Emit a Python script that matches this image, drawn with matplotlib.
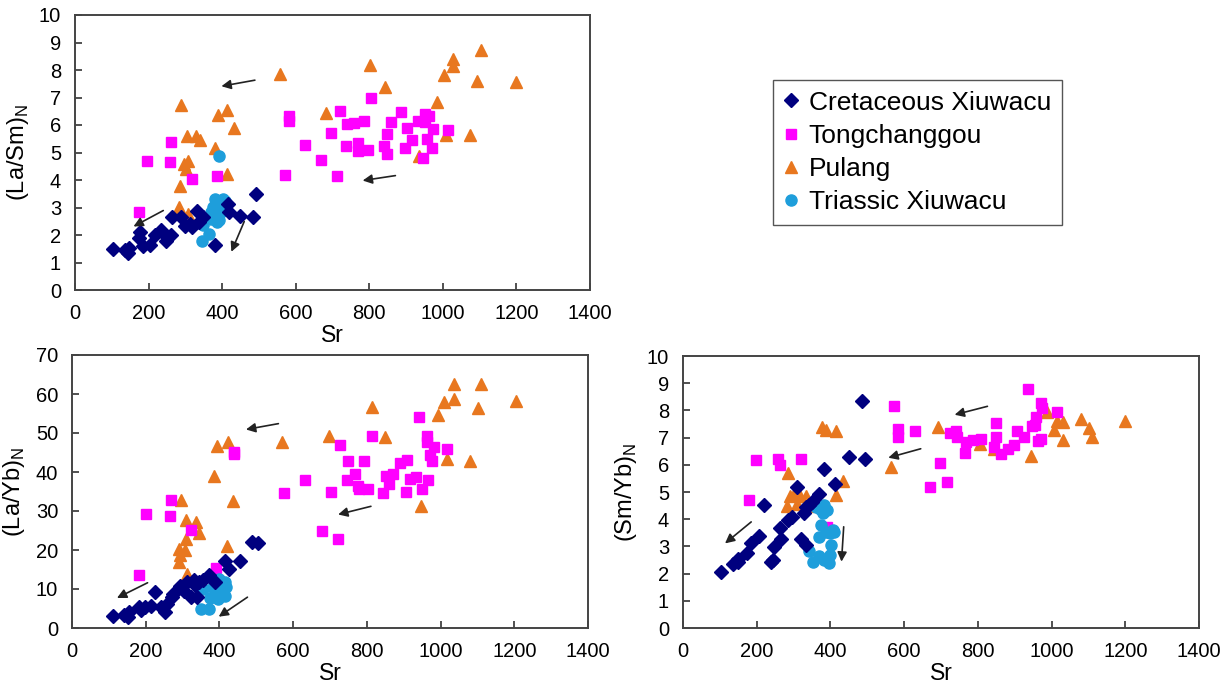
import numpy as np
import matplotlib
matplotlib.use('Agg')
import matplotlib.pyplot as plt

plt.rcParams['font.family'] = ['Liberation Sans', 'DejaVu Sans']
plt.rcParams['mathtext.fontset'] = 'custom'
plt.rcParams['mathtext.rm'] = 'Liberation Sans'

# (La/Sm)N vs Sr
cre_sr1 = [104, 137, 145, 148, 175, 177, 186, 204, 218, 233, 242, 247, 261, 265, 287, 298, 312, 319,
           331, 337, 349, 380, 417, 419, 448, 484, 492]
cre_lasm = [1.5, 1.45, 1.36, 1.53, 1.89, 2.1, 1.6, 1.63, 2.0, 2.19, 2.05, 1.77, 1.99, 2.65, 2.65, 2.33, 2.41, 2.29,
            2.89, 2.49, 2.65, 1.65, 3.14, 2.83, 2.69, 2.65, 3.5]
ton_sr1 = [175, 197, 261, 258, 317, 385, 570, 583, 583, 626, 670, 697, 713, 720, 737, 740, 758, 769, 769, 785,
           796, 804, 839, 847, 849, 860, 885, 903, 898, 917, 932, 946, 952, 957, 962, 970, 973, 1013, 952]
ton_lasm = [2.83, 4.7, 5.4, 4.64, 4.04, 4.13, 4.18, 6.33, 6.14, 5.27, 4.72, 5.7, 4.16, 6.5, 5.24, 6.02, 6.06, 5.34,
            5.06, 6.14, 5.1, 6.99, 5.24, 4.94, 5.66, 6.1, 6.47, 5.9, 5.18, 5.46, 6.14, 4.8, 6.39, 5.48, 6.33, 5.18,
            5.84, 5.82, 6.1]
pul_sr1 = [287, 304, 306, 295, 301, 285, 282, 306, 330, 339, 380, 388, 414, 414, 432, 557, 683, 801, 842, 984,
           1002, 1027, 1027, 1094, 1104, 1073, 1009, 935, 1199]
pul_lasm = [6.71, 5.6, 4.7, 4.58, 4.4, 3.8, 3.01, 2.75, 5.6, 5.45, 5.16, 6.35, 6.54, 4.22, 5.9, 7.87, 6.45, 8.17,
            7.37, 6.84, 7.83, 8.4, 8.16, 7.59, 8.73, 5.63, 5.63, 4.88, 7.55]
tri_sr1 = [392, 344, 363, 349, 370, 376, 380, 392, 398, 401, 409, 384, 370, 387, 392]
tri_lasm = [4.88, 1.8, 2.05, 2.35, 2.6, 3.01, 3.3, 3.13, 2.83, 3.3, 3.25, 2.65, 2.83, 2.47, 2.53]

# (La/Yb)N vs Sr
cre_sr2 = [111, 140, 156, 151, 181, 188, 199, 213, 226, 242, 253, 258, 271, 274, 293, 305, 312, 323, 334, 340,
           345, 355, 371, 414, 425, 455, 488, 506, 388, 332]
cre_layb = [3.2, 3.4, 4.0, 2.9, 5.3, 4.5, 5.3, 5.6, 9.2, 5.3, 4.2, 6.2, 7.9, 8.7, 10.7, 9.6, 11.7, 7.9, 10.9, 7.9,
            11.7, 12.2, 13.5, 17.3, 15.2, 17.1, 22.0, 21.9, 11.7, 12.2]
ton_sr2 = [181, 202, 267, 269, 323, 391, 439, 439, 576, 633, 678, 703, 721, 727, 745, 749, 768, 775, 778, 791,
           802, 813, 845, 853, 859, 870, 891, 910, 905, 918, 932, 942, 950, 962, 964, 966, 972, 977, 983, 1018]
ton_layb = [13.5, 29.3, 28.7, 32.7, 25.2, 15.3, 45.2, 44.5, 34.6, 38.0, 24.8, 34.9, 22.7, 47.0, 38.0, 42.8, 39.6,
            36.3, 35.7, 42.8, 35.6, 49.3, 34.6, 38.9, 36.8, 39.6, 42.4, 43.0, 34.9, 38.3, 38.7, 54.2, 35.7, 49.3,
            47.7, 37.9, 44.3, 42.8, 46.4, 45.8]
pul_sr2 = [296, 310, 337, 345, 310, 307, 291, 293, 291, 312, 386, 393, 422, 420, 438, 571, 696, 813, 849, 947,
           993, 1010, 1018, 1036, 1036, 1080, 1102, 1111, 1206]
pul_layb = [32.9, 27.8, 27.3, 24.3, 22.7, 20.1, 20.3, 18.6, 16.9, 13.9, 38.9, 46.6, 47.7, 20.9, 32.5, 47.7, 49.2,
            56.6, 49.0, 31.3, 54.6, 58.0, 43.4, 62.5, 58.7, 42.8, 56.3, 62.5, 58.2]
tri_sr2 = [350, 372, 374, 355, 382, 393, 398, 409, 414, 418, 404, 414, 396, 388]
tri_layb = [4.9, 4.9, 7.6, 10.0, 10.5, 11.3, 12.6, 10.5, 11.7, 10.5, 8.7, 8.3, 7.5, 9.2]

# (Sm/Yb)N vs Sr
cre_sr3 = [104, 137, 148, 150, 174, 185, 206, 220, 238, 243, 248, 264, 267, 285, 296, 309, 319, 327, 333, 343,
           349, 368, 383, 412, 451, 486, 494, 333]
cre_smyb = [2.07, 2.35, 2.44, 2.52, 2.77, 3.11, 3.38, 4.51, 2.44, 2.5, 2.99, 3.66, 3.29, 3.96, 4.09, 5.18, 3.27,
            4.21, 3.05, 4.51, 4.63, 4.94, 5.85, 5.3, 6.3, 8.35, 6.22, 4.45]
ton_sr3 = [178, 198, 259, 262, 319, 391, 573, 583, 583, 629, 671, 697, 716, 724, 740, 743, 764, 769, 787, 808,
           850, 850, 843, 864, 882, 898, 906, 924, 935, 946, 956, 959, 962, 970, 972, 974, 1014]
ton_smyb = [4.72, 6.16, 6.2, 6.01, 6.22, 3.72, 8.17, 7.32, 7.04, 7.26, 5.18, 6.06, 5.37, 7.16, 7.26, 7.01, 6.43,
            6.83, 6.91, 6.95, 7.52, 7.01, 6.67, 6.4, 6.59, 6.71, 7.26, 7.04, 8.8, 7.44, 7.48, 7.77, 6.87, 6.95,
            8.26, 8.07, 7.93]
pul_sr3 = [285, 283, 290, 301, 309, 317, 333, 338, 378, 389, 414, 414, 433, 565, 692, 805, 843, 943, 988, 1006,
           1014, 1032, 1032, 1081, 1101, 1111, 1199]
pul_smyb = [5.7, 4.48, 4.84, 4.94, 4.57, 4.84, 4.84, 4.48, 7.4, 7.28, 7.23, 4.88, 5.4, 5.91, 7.4, 6.77, 6.59,
            6.34, 7.93, 7.28, 7.62, 7.56, 6.91, 7.68, 7.35, 7.04, 7.62]
tri_sr3 = [343, 354, 370, 382, 396, 398, 401, 370, 375, 380, 383, 388, 391, 399, 407, 372, 361, 410]
tri_smyb = [2.84, 2.44, 2.65, 2.5, 2.38, 2.68, 3.05, 3.35, 3.78, 4.21, 4.51, 3.54, 4.33, 3.48, 3.6, 4.39, 4.45,
            3.54]

# arrows (start -> head) in data coords
arrows1 = [((489, 7.63), (398, 7.41)), ((871, 4.16), (782, 3.98)),
           ((240, 2.89), (159, 2.31)), ((460, 2.49), (425, 1.39))]
arrows2 = [((560, 52.4), (472, 50.9)), ((811, 31.2), (722, 29.1)),
           ((205, 11.6), (122, 7.7)), ((476, 7.9), (398, 2.9))]
arrows3 = [((826, 8.15), (737, 7.84)), ((645, 6.59), (557, 6.26)),
           ((185, 3.9), (114, 3.11)), ((436, 3.72), (430, 2.44))]

names = ['Cretaceous Xiuwacu', 'Tongchanggou', 'Pulang', 'Triassic Xiuwacu']
colors = ['#00007f', '#ff00ff', '#e8771f', '#1e9edb']
markers = ['D', 's', '^', 'o']
msizes = [7, 7.5, 8.5, 8]

W, H = 1227, 686
fig = plt.figure(figsize=(W / 100, H / 100), dpi=100)


def make_ax(l, r, t, b):
    return fig.add_axes([l / W, 1 - b / H, (r - l) / W, (b - t) / H])


ax1 = make_ax(75, 590, 15, 290)
ax2 = make_ax(72, 588, 355, 628)
ax3 = make_ax(683, 1199, 356, 628)

panels = [
    (ax1, [(cre_sr1, cre_lasm), (ton_sr1, ton_lasm), (pul_sr1, pul_lasm), (tri_sr1, tri_lasm)],
     arrows1, r'(La/Sm)$_\mathregular{N}$', (0, 10), 1),
    (ax2, [(cre_sr2, cre_layb), (ton_sr2, ton_layb), (pul_sr2, pul_layb), (tri_sr2, tri_layb)],
     arrows2, r'(La/Yb)$_\mathregular{N}$', (0, 70), 10),
    (ax3, [(cre_sr3, cre_smyb), (ton_sr3, ton_smyb), (pul_sr3, pul_smyb), (tri_sr3, tri_smyb)],
     arrows3, r'(Sm/Yb)$_\mathregular{N}$', (0, 10), 1),
]

handles = []
for ax, series, arr, ylab, ylim, ystep in panels:
    # draw order: Pulang, Tongchanggou, Triassic, Cretaceous
    for k in [2, 1, 3, 0]:
        x, y = series[k]
        h, = ax.plot(x, y, ls='none', marker=markers[k], ms=msizes[k], color=colors[k],
                     mec=colors[k], label=names[k])
        if ax is ax1:
            handles.append((k, h))
    for (x0, y0), (x1, y1) in arr:
        ax.annotate('', xy=(x1, y1), xytext=(x0, y0),
                    arrowprops=dict(arrowstyle='-|>', color='#222222', lw=1.2,
                                    mutation_scale=14, shrinkA=0, shrinkB=0))
    ax.set_xlim(0, 1400)
    ax.set_ylim(*ylim)
    ax.set_xticks(np.arange(0, 1401, 200))
    ax.set_yticks(np.arange(ylim[0], ylim[1] + 0.1, ystep))
    ax.tick_params(direction='in', length=5, width=1.2, labelsize=14.5, color='#333333', pad=10)
    for s in ax.spines.values():
        s.set_linewidth(1.4)
        s.set_color('#444444')
    ax.set_xlabel('Sr', fontsize=16.5, labelpad=1)
    ax.set_ylabel(ylab, fontsize=17, labelpad=6)

handles = [h for k, h in sorted(handles)]
fig.legend(handles=handles, labels=names, loc='upper left',
           bbox_to_anchor=(773 / W, 1 - 80 / H), fontsize=19, frameon=True,
           fancybox=False, edgecolor='#555555', framealpha=1, handlelength=0.6,
           handletextpad=0.35, labelspacing=0.35, borderpad=0.4, borderaxespad=0)

fig.savefig('out.png', dpi=100)
